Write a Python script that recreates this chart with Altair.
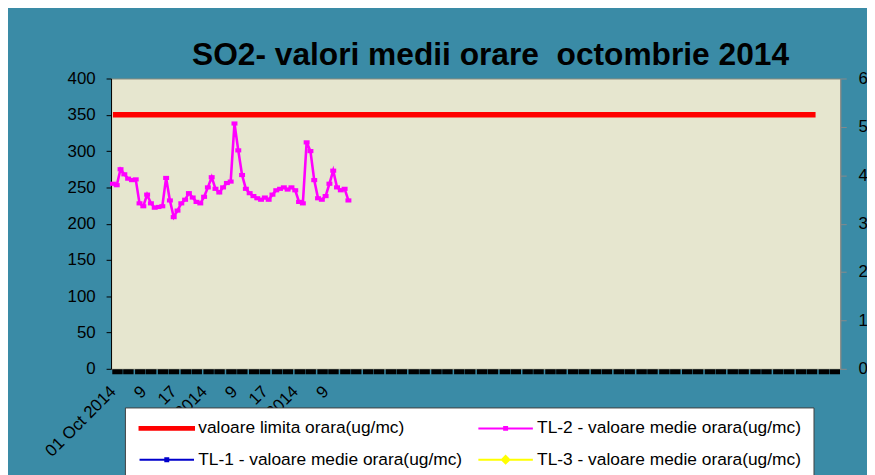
import altair as alt
import pandas as pd

# ---------------- data ----------------
title_text = "SO2- valori medii orare\u00a0 octombrie 2014"
series_names = [
    "valoare limita orara(ug/mc)",
    "TL-1 - valoare medie orara(ug/mc)",
    "TL-2 - valoare medie orara(ug/mc)",
    "TL-3 - valoare medie orara(ug/mc)",
]
series_colors = ["#ff0000", "#0000cc", "#ff00ff", "#ffff00"]

n_categories = 192          # hourly categories on the x axis
limit_value = 350
limit_count = 186           # number of hours with the limit line

tl2_values = [
    255, 253, 275, 268, 262, 260, 261, 228, 224, 240,
    228, 222, 223, 224, 263, 232, 209, 218, 228, 233,
    242, 236, 230, 228, 237, 250, 264, 248, 243, 250,
    256, 258, 338, 301, 267, 248, 242, 238, 235, 233,
    236, 233, 240, 246, 248, 250, 247, 250, 246, 230,
    228, 312, 300, 260, 235, 233, 238, 255, 273, 250,
    246, 248, 232,
]

x_label_positions = [0, 8, 16, 24, 32, 40, 48, 56]
x_label_texts = ["01 Oct 2014", "9", "17", "02 Oct 2014", "9", "17", "03 Oct 2014", "9"]
left_ticks = [0, 50, 100, 150, 200, 250, 300, 350, 400]
right_ticks = [0, 100, 200, 300, 400, 500, 600]

# ---------------- tables ----------------
limit_df = pd.DataFrame({"idx": list(range(limit_count)), "v": [limit_value] * limit_count})
tl2_df = pd.DataFrame({"idx": list(range(len(tl2_values))), "v": tl2_values})
legend_df = pd.DataFrame({"series": series_names, "idx": [0] * 4, "v": [0] * 4})
right_df = pd.DataFrame({"r": right_ticks})

FONT = "Liberation Sans"
TEAL = "#3a8ba6"

# x axis: black blocks every 3 hours, labels at selected hours
tick_centres = list(range(1, n_categories, 3))
x_values = sorted(set(tick_centres) | set(x_label_positions))
label_expr = "''"
for p, t in reversed(list(zip(x_label_positions, x_label_texts))):
    label_expr = f"datum.value === {p} ? '{t}' : ({label_expr})"

x_axis = alt.Axis(
    values=x_values,
    labelExpr=label_expr,
    labelAngle=-45,
    labelAlign="right",
    labelBaseline="middle",
    labelPadding=15,
    labelFontSize=17,
    labelFont=FONT,
    labelColor="black",
    labelOverlap=False,
    labelFlush=False,
    domain=False,
    ticks=True,
    tickSize=5,
    tickWidth=10.5,
    tickColor={"condition": {"test": "(datum.value - 1) % 3 === 0", "value": "black"},
               "value": "transparent"},
    grid=False,
    title=None,
)
x_scale = alt.Scale(domain=[-0.5, n_categories - 0.5], nice=False, zero=False)
X = alt.X("idx:Q", scale=x_scale, axis=x_axis)

y_axis = alt.Axis(
    values=left_ticks,
    labelFontSize=17,
    labelFont=FONT,
    labelColor="black",
    labelPadding=11,
    tickSize=5,
    tickColor="black",
    domainColor="black",
    grid=False,
    title=None,
)
y_scale = alt.Scale(domain=[0, 400], nice=False, zero=True)
Y = alt.Y("v:Q", scale=y_scale, axis=y_axis)

limit_layer = alt.Chart(limit_df).mark_line(color="#ff0000", strokeWidth=5.5).encode(x=X, y=Y)
tl2_line = alt.Chart(tl2_df).mark_line(color="#ff00ff", strokeWidth=2.6).encode(x=X, y=Y)
tl2_pts = alt.Chart(tl2_df).mark_point(
    shape="M-1,-0.7H1V0.7H-1Z", filled=True, size=36, color="#ff00ff", opacity=1
).encode(x=X, y=Y)

# legend symbols: unit scale = 5 px (symbolSize 100), line 55 px wide
legend_paths = [
    "M-5.5,-0.3H5.5V0.3H-5.5Z",
    "M-5.5,0H5.5M-0.3,-0.3H0.3V0.3H-0.3Z",
    "M-5.5,0H5.5M-0.3,-0.3H0.3V0.3H-0.3Z",
    "M-5.5,0H5.5M0,-0.75L0.75,0L0,0.75L-0.75,0Z",
]
leg = alt.Legend(
    title=None,
    orient="none",
    legendX=14,
    legendY=332,
    columns=2,
    columnPadding=11,
    rowPadding=13,
    symbolSize=100,
    symbolStrokeWidth=2,
    symbolOffset=21.5,
    symbolOpacity=1,
    labelFontSize=17.5,
    labelFont=FONT,
    labelColor="black",
    labelOffset=23,
    labelLimit=400,
    fillColor="white",
    strokeColor="#404040",
    padding=12,
)
color_scale = alt.Scale(domain=series_names, range=series_colors)
legend_layer = alt.Chart(legend_df).mark_point(filled=True).encode(
    x=X,
    y=Y,
    fill=alt.Fill("series:N", scale=color_scale, legend=leg),
    stroke=alt.Stroke("series:N", scale=color_scale, legend=leg),
    shape=alt.Shape("series:N", scale=alt.Scale(domain=series_names, range=legend_paths), legend=leg),
).transform_filter("false")

left = alt.layer(limit_layer, tl2_line, tl2_pts, legend_layer)

right = alt.Chart(right_df).mark_point(opacity=0).encode(
    y=alt.Y(
        "r:Q",
        scale=alt.Scale(domain=[0, 600], nice=False),
        axis=alt.Axis(
            orient="right",
            values=right_ticks,
            labelFontSize=17,
            labelFont=FONT,
            labelColor="black",
            labelPadding=12,
            labelAlign="left",
            tickSize=6,
            tickColor="#8a8a8a",
            domainColor="#8a8a8a",
            grid=False,
            title=None,
        ),
    )
).transform_filter("false")

chart = (
    alt.layer(left, right)
    .resolve_scale(y="independent")
    .properties(
        width=736,
        height=293,
        title=alt.Title(
            title_text,
            fontSize=32,
            fontWeight="bold",
            font=FONT,
            color="black",
            anchor="middle",
            dx=15,
            dy=3,
            offset=1,
        ),
        autosize=alt.AutoSizeParams(type="none"),
        padding={"left": 104, "top": 69, "right": 27, "bottom": 105},
        background=TEAL,
    )
    .configure_view(fill="#e6e6cf", stroke="#8c8c7c", strokeWidth=1)
)

chart.save("out.html", embed_options={"renderer": "svg", "actions": False})
